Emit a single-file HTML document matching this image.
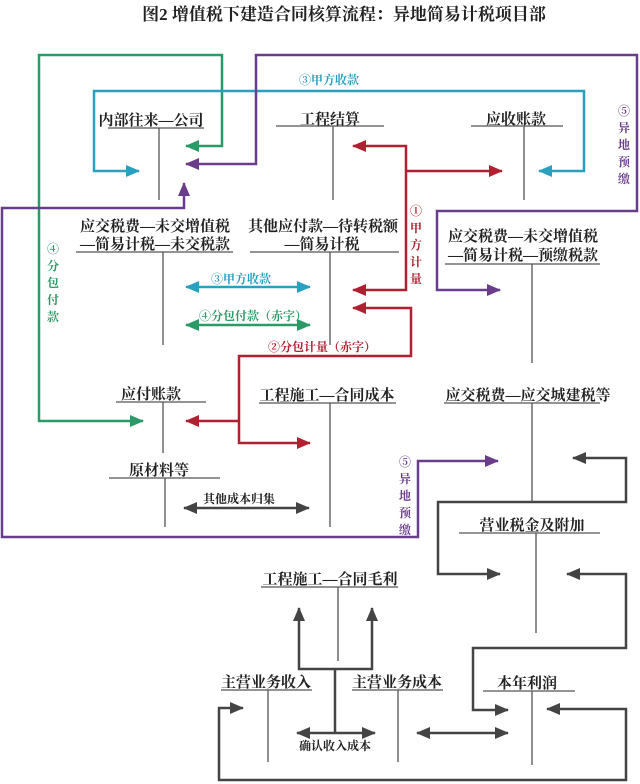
<!DOCTYPE html>
<html><head><meta charset="utf-8"><style>
html,body{margin:0;padding:0;background:#fff;}
svg{display:block;}
text{font-family:"Liberation Serif","Noto Serif CJK SC",serif;}
.t{font-size:15px;font-weight:bold;fill:#222;text-anchor:middle;}
.s{font-size:12px;font-weight:bold;text-anchor:middle;}
.tl{stroke:#555;stroke-width:1.3;fill:none;}
</style></head><body>
<svg width="640" height="784" viewBox="0 0 640 784" xmlns="http://www.w3.org/2000/svg">
<defs>
<marker id="ag" markerUnits="userSpaceOnUse" markerWidth="14" markerHeight="12" refX="13" refY="6" orient="auto-start-reverse"><path d="M0,0 L14,6 L0,12 z" fill="#2a9a66"/></marker>
<marker id="ap" markerUnits="userSpaceOnUse" markerWidth="14" markerHeight="12" refX="13" refY="6" orient="auto-start-reverse"><path d="M0,0 L14,6 L0,12 z" fill="#6a3d8c"/></marker>
<marker id="ac" markerUnits="userSpaceOnUse" markerWidth="14" markerHeight="12" refX="13" refY="6" orient="auto-start-reverse"><path d="M0,0 L14,6 L0,12 z" fill="#2aa0c0"/></marker>
<marker id="ar" markerUnits="userSpaceOnUse" markerWidth="14" markerHeight="12" refX="13" refY="6" orient="auto-start-reverse"><path d="M0,0 L14,6 L0,12 z" fill="#b02030"/></marker>
<marker id="ak" markerUnits="userSpaceOnUse" markerWidth="14" markerHeight="12" refX="13" refY="6" orient="auto-start-reverse"><path d="M0,0 L14,6 L0,12 z" fill="#444"/></marker>
</defs>
<text x="344" y="20" style="font-size:17px;font-weight:bold;text-anchor:middle;fill:#222">图2 增值税下建造合同核算流程：异地简易计税项目部</text>

<!-- green -->
<g stroke="#2a9a66" stroke-width="2.5" fill="none">
<polyline points="186,146 222,146 222,55 39,55 39,421 143,421" marker-start="url(#ag)" marker-end="url(#ag)"/>
<line x1="186" y1="325" x2="310" y2="325" marker-start="url(#ag)" marker-end="url(#ag)"/>
</g>
<!-- cyan -->
<g stroke="#2aa0c0" stroke-width="2.5" fill="none">
<polyline points="139,171 94,171 94,91 584,91 584,171 539,171" marker-start="url(#ac)" marker-end="url(#ac)"/>
<line x1="186" y1="287" x2="310" y2="287" marker-start="url(#ac)" marker-end="url(#ac)"/>
</g>
<!-- purple -->
<g stroke="#6a3d8c" stroke-width="2.5" fill="none">
<polyline points="186,164 256,164 256,55 637,55 637,211 437,211 437,290 500,290" marker-start="url(#ap)" marker-end="url(#ap)"/>
<polyline points="184,183 184,208 2,208 2,537 418,537 418,461 498,461" marker-start="url(#ap)" marker-end="url(#ap)"/>
</g>
<!-- red -->
<g stroke="#b02030" stroke-width="2.5" fill="none">
<polyline points="353,146 406,146 406,290 353,290" marker-start="url(#ar)" marker-end="url(#ar)"/>
<line x1="406" y1="171" x2="502" y2="171" marker-end="url(#ar)"/>
<polyline points="353,308 411,308 411,356 239,356 239,443 310,443" marker-start="url(#ar)" marker-end="url(#ar)"/>
<line x1="239" y1="421" x2="186" y2="421" marker-end="url(#ar)"/>
</g>
<!-- dark -->
<g stroke="#444" stroke-width="2.5" fill="none">
<polyline points="573,458 626,458 626,502 438,502 438,574 500,574" marker-start="url(#ak)" marker-end="url(#ak)"/>
<polyline points="567,574 626,574 626,648 473,648 473,710 508,710" marker-start="url(#ak)" marker-end="url(#ak)"/>
<polyline points="547,709 626,709 626,780 219,780 219,708 243,708" marker-start="url(#ak)" marker-end="url(#ak)"/>
<line x1="184" y1="508" x2="309" y2="508" marker-start="url(#ak)" marker-end="url(#ak)"/>
<polyline points="299,608 299,669 372,669 372,608" marker-start="url(#ak)" marker-end="url(#ak)"/>
<line x1="335" y1="669" x2="335" y2="733"/>
<line x1="297" y1="733" x2="375" y2="733" marker-start="url(#ak)" marker-end="url(#ak)"/>
<line x1="417" y1="733" x2="508" y2="733" marker-start="url(#ak)" marker-end="url(#ak)"/>
</g>

<!-- T accounts -->
<g class="tl">
<line x1="108" y1="128" x2="204" y2="128"/><line x1="159" y1="128" x2="159" y2="200"/>
<line x1="276" y1="126" x2="384" y2="126"/><line x1="333" y1="126" x2="333" y2="200"/>
<line x1="471" y1="126" x2="563" y2="126"/><line x1="524" y1="126" x2="524" y2="200"/>
<line x1="76" y1="252" x2="233" y2="252"/><line x1="163" y1="252" x2="163" y2="345"/>
<line x1="250" y1="252" x2="399" y2="252"/><line x1="330" y1="252" x2="330" y2="345"/>
<line x1="445" y1="264" x2="600" y2="264"/><line x1="532" y1="264" x2="532" y2="363"/>
<line x1="116" y1="402" x2="206" y2="402"/><line x1="163" y1="402" x2="163" y2="453"/>
<line x1="109" y1="478" x2="220" y2="478"/><line x1="165" y1="478" x2="165" y2="527"/>
<line x1="259" y1="403" x2="396" y2="403"/><line x1="330" y1="403" x2="330" y2="527"/>
<line x1="444" y1="403" x2="600" y2="403"/><line x1="532" y1="403" x2="532" y2="502"/>
<line x1="459" y1="533" x2="600" y2="533"/><line x1="536" y1="533" x2="536" y2="633"/>
<line x1="261" y1="587" x2="398" y2="587"/><line x1="338" y1="587" x2="338" y2="661"/>
<line x1="221" y1="690" x2="312" y2="690"/><line x1="268" y1="690" x2="268" y2="762"/>
<line x1="352" y1="690" x2="443" y2="690"/><line x1="398" y1="690" x2="398" y2="762"/>
<line x1="483" y1="691" x2="575" y2="691"/><line x1="532" y1="691" x2="532" y2="765"/>
</g>
<text class="t" x="151" y="125">内部往来—公司</text>
<text class="t" x="330" y="124">工程结算</text>
<text class="t" x="516" y="124">应收账款</text>
<text class="t" x="155" y="231">应交税费—未交增值税</text>
<text class="t" x="155" y="249">—简易计税—未交税款</text>
<text class="t" x="323" y="231">其他应付款—待转税额</text>
<text class="t" x="322" y="249">—简易计税</text>
<text class="t" x="523" y="241">应交税费—未交增值税</text>
<text class="t" x="523" y="260">—简易计税—预缴税款</text>
<text class="t" x="151" y="399">应付账款</text>
<text class="t" x="159" y="475">原材料等</text>
<text class="t" x="327" y="400">工程施工—合同成本</text>
<text class="t" x="528" y="400">应交税费—应交城建税等</text>
<text class="t" x="532" y="530">营业税金及附加</text>
<text class="t" x="330" y="584">工程施工—合同毛利</text>
<text class="t" x="266" y="687">主营业务收入</text>
<text class="t" x="397" y="687">主营业务成本</text>
<text class="t" x="527" y="688">本年利润</text>

<text class="s" x="329" y="84" fill="#2aa0c0">③甲方收款</text>
<text class="s" x="241" y="283" fill="#2aa0c0">③甲方收款</text>
<text class="s" x="253" y="320" fill="#2a9a66">④分包付款（赤字）</text>
<text class="s" x="322" y="351" fill="#b02030">②分包计量（赤字）</text>
<text class="s" x="239" y="503" fill="#222">其他成本归集</text>
<text class="s" x="335" y="750" fill="#222">确认收入成本</text>
<g class="s" fill="#b02030"><text x="416" y="215">①</text><text x="416" y="232">甲</text><text x="416" y="249">方</text><text x="416" y="266">计</text><text x="416" y="283">量</text></g>
<g class="s" fill="#6a3d8c"><text x="624" y="115">⑤</text><text x="624" y="132">异</text><text x="624" y="149">地</text><text x="624" y="166">预</text><text x="624" y="183">缴</text></g>
<g class="s" fill="#6a3d8c"><text x="405" y="466">⑤</text><text x="405" y="483">异</text><text x="405" y="500">地</text><text x="405" y="517">预</text><text x="405" y="534">缴</text></g>
<g class="s" fill="#2a9a66"><text x="53" y="253">④</text><text x="53" y="270">分</text><text x="53" y="287">包</text><text x="53" y="304">付</text><text x="53" y="321">款</text></g>
</svg>
</body></html>
